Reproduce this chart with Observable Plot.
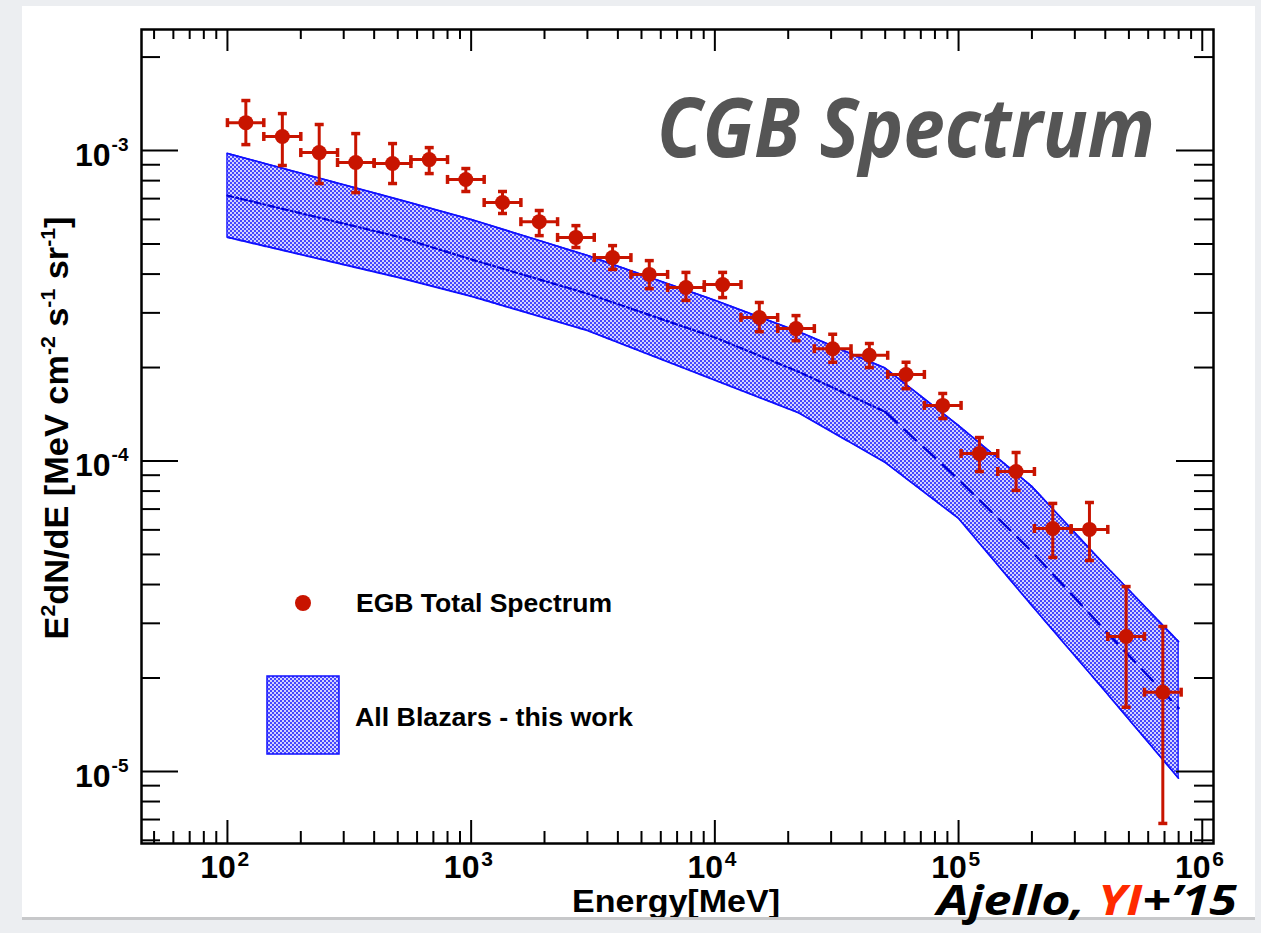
<!DOCTYPE html>
<html>
<head>
<meta charset="utf-8">
<script src="https://cdn.jsdelivr.net/npm/d3@7"></script>
<script src="https://cdn.jsdelivr.net/npm/@observablehq/plot@0.6"></script>
<style>
  html, body { margin: 0; padding: 0; background: #eceef1; }
  #page { position: relative; width: 1261px; height: 933px; overflow: hidden; background: #eceef1; }
  #panel { position: absolute; left: 22px; top: 6px; width: 1233px; height: 911px; background: #fff; overflow: hidden; }
  #panel > svg { position: absolute; left: -22px; top: -6px; }
  #rule { position: absolute; left: 22px; top: 917px; width: 1233px; height: 3px; background: #c7c8ca; }
  #credit { position: absolute; left: 0; top: 0; }
</style>
</head>
<body>
<svg width="0" height="0" style="position:absolute">
  <defs>
    <pattern id="hatch" width="4" height="4" patternUnits="userSpaceOnUse">
      <rect width="4" height="4" fill="#d2d2ff"/>
      <rect width="2" height="2" fill="#4646ff"/>
      <rect x="2" y="2" width="2" height="2" fill="#4646ff"/>
    </pattern>
  </defs>
</svg>
<div id="page">
  <div id="panel"></div>
  <div id="rule"></div>
</div>
<script>
// ---- EGB total spectrum (Fermi-LAT): energy bins [MeV] and E^2 dN/dE [MeV cm^-2 s^-1 sr^-1]
const E_LO  = [100, 141, 200, 283, 400, 566, 800, 1131, 1600, 2263, 3200, 4525, 6400, 9051,
               12800, 18102, 25600, 36204, 51200, 72408, 102400, 144815, 204800, 289631, 409600, 579262];
const E_HI  = [141, 200, 283, 400, 566, 800, 1131, 1600, 2263, 3200, 4525, 6400, 9051, 12800,
               18102, 25600, 36204, 51200, 72408, 102400, 144815, 204800, 289631, 409600, 579262, 819200];
const E_MID = [119, 168, 238, 336, 476, 673, 951, 1345, 1903, 2691, 3805, 5382, 7611, 10763,
               15222, 21527, 30444, 43054, 60887, 86107, 121775, 172215, 243549, 344430, 487098, 688859];
const FLUX    = [1.23e-3, 1.11e-3, 9.85e-4, 9.15e-4, 9.08e-4, 9.35e-4, 8.07e-4, 6.80e-4, 5.90e-4, 5.25e-4,
                 4.52e-4, 3.99e-4, 3.62e-4, 3.70e-4, 2.90e-4, 2.67e-4, 2.30e-4, 2.19e-4, 1.90e-4, 1.51e-4,
                 1.057e-4, 9.25e-5, 6.06e-5, 6.02e-5, 2.72e-5, 1.80e-5];
const FLUX_HI = [1.449e-3, 1.315e-3, 1.213e-3, 1.134e-3, 1.053e-3, 1.022e-3, 8.75e-4, 7.38e-4, 6.41e-4, 5.73e-4,
                 4.94e-4, 4.42e-4, 4.05e-4, 4.05e-4, 3.24e-4, 2.94e-4, 2.56e-4, 2.39e-4, 2.08e-4, 1.65e-4,
                 1.19e-4, 1.065e-4, 7.30e-5, 7.35e-5, 3.94e-5, 2.93e-5];
const FLUX_LO = [1.045e-3, 8.95e-4, 7.83e-4, 7.32e-4, 7.83e-4, 8.43e-4, 7.38e-4, 6.27e-4, 5.32e-4, 4.87e-4,
                 4.14e-4, 3.59e-4, 3.29e-4, 3.36e-4, 2.61e-4, 2.44e-4, 2.08e-4, 2.00e-4, 1.71e-4, 1.37e-4,
                 9.25e-5, 8.04e-5, 4.89e-5, 4.78e-5, 1.61e-5, 6.80e-6];

// ---- All-blazar model band (this work): lower / central / upper curves
const BAND_E   = [100, 500, 1000, 3000, 1e4, 2.2e4, 5e4, 1e5, 2e5, 4e5, 8e5];
const BAND_HI  = [9.78e-4, 6.96e-4, 5.99e-4, 4.59e-4, 3.29e-4, 2.61e-4, 1.99e-4, 1.30e-4, 8.28e-5, 4.61e-5, 2.62e-5];
const BAND_MID = [7.16e-4, 5.28e-4, 4.46e-4, 3.46e-4, 2.50e-4, 1.94e-4, 1.44e-4, 8.72e-5, 5.11e-5, 2.84e-5, 1.60e-5];
const BAND_LO  = [5.25e-4, 3.90e-4, 3.39e-4, 2.63e-4, 1.82e-4, 1.43e-4, 9.89e-5, 6.53e-5, 3.42e-5, 1.81e-5, 9.5e-6];
const BAND_BREAK = 5e4; // central curve switches from dash-dot to long dashes here

// ---- axis ticks and labels
const X_MAJOR = [1e2, 1e3, 1e4, 1e5, 1e6];
const X_EXP   = ["2", "3", "4", "5", "6"];
const X_MINOR = [50, 60, 70, 80, 90,
                 200, 300, 400, 500, 600, 700, 800, 900,
                 2000, 3000, 4000, 5000, 6000, 7000, 8000, 9000,
                 2e4, 3e4, 4e4, 5e4, 6e4, 7e4, 8e4, 9e4,
                 2e5, 3e5, 4e5, 5e5, 6e5, 7e5, 8e5, 9e5];
const Y_MAJOR = [1e-3, 1e-4, 1e-5];
const Y_EXP   = ["-3", "-4", "-5"];
const Y_MINOR = [6e-6, 7e-6, 8e-6, 9e-6,
                 2e-5, 3e-5, 4e-5, 5e-5, 6e-5, 7e-5, 8e-5, 9e-5,
                 2e-4, 3e-4, 4e-4, 5e-4, 6e-4, 7e-4, 8e-4, 9e-4,
                 2e-3];

const RED = "#c81400";
const BLUE = "#1010ff";
const FONT = "'Liberation Sans', Arial, Helvetica, sans-serif";

const W = 1261, H = 933;
const M = {left: 141, right: 48, top: 29, bottom: 90};
const innerW = W - M.left - M.right;
const innerH = H - M.top - M.bottom;

const points = E_MID.map((e, i) => ({e, elo: E_LO[i], ehi: E_HI[i], f: FLUX[i], flo: FLUX_LO[i], fhi: FLUX_HI[i]}));
const band = BAND_E.map((e, i) => ({e, lo: BAND_LO[i], mid: BAND_MID[i], hi: BAND_HI[i]}));

// end-cap glyphs for the error bars
const hbar = {draw(ctx, size) { const r = Math.sqrt(size / Math.PI); ctx.moveTo(-r, 0); ctx.lineTo(r, 0); }};
const vbar = {draw(ctx, size) { const r = Math.sqrt(size / Math.PI); ctx.moveTo(0, -r); ctx.lineTo(0, r); }};

const tick = {stroke: "#000", strokeWidth: 2};

const chart = Plot.plot({
  width: W, height: H,
  marginLeft: M.left, marginRight: M.right, marginTop: M.top, marginBottom: M.bottom,
  x: {type: "log", domain: [44.4, 1.112e6], axis: null},
  y: {type: "log", domain: [5.86e-6, 2.454e-3], axis: null},
  style: {background: "transparent", overflow: "visible", maxWidth: "none", fontFamily: FONT},
  marks: [
    // model band
    Plot.areaY(band, {x: "e", y1: "lo", y2: "hi", fill: "url(#hatch)", stroke: BLUE, strokeWidth: 1.3}),
    Plot.line(band, {x: "e", y: "hi", stroke: BLUE, strokeWidth: 1.6, strokeDasharray: "3,1"}),
    Plot.line(band, {x: "e", y: "lo", stroke: BLUE, strokeWidth: 1.6, strokeDasharray: "3,1"}),
    Plot.line(band.filter(d => d.e <= BAND_BREAK), {x: "e", y: "mid", stroke: "#0000d8", strokeWidth: 2.2, strokeDasharray: "6,3,2,3"}),
    Plot.line(band.filter(d => d.e >= BAND_BREAK), {x: "e", y: "mid", stroke: "#0000d8", strokeWidth: 2.4, strokeDasharray: "16,10"}),

    // EGB data with error bars
    Plot.ruleY(points, {y: "f", x1: "elo", x2: "ehi", stroke: RED, strokeWidth: 3}),
    Plot.ruleX(points, {x: "e", y1: "flo", y2: "fhi", stroke: RED, strokeWidth: 3}),
    Plot.dot(points, {x: "e", y: "fhi", symbol: hbar, r: 4.5, fill: "none", stroke: RED, strokeWidth: 3.5}),
    Plot.dot(points, {x: "e", y: "flo", symbol: hbar, r: 4.5, fill: "none", stroke: RED, strokeWidth: 3.5}),
    Plot.dot(points, {x: "elo", y: "f", symbol: vbar, r: 4.5, fill: "none", stroke: RED, strokeWidth: 3.5}),
    Plot.dot(points, {x: "ehi", y: "f", symbol: vbar, r: 4.5, fill: "none", stroke: RED, strokeWidth: 3.5}),
    Plot.dot(points, {x: "e", y: "f", r: 7.5, fill: RED, stroke: "none"}),

    // inward ticks on all four sides
    Plot.ruleX(X_MAJOR, {x: d => d, insetTop: innerH - 23, ...tick}),
    Plot.ruleX(X_MINOR, {x: d => d, insetTop: innerH - 12, ...tick}),
    Plot.ruleX(X_MAJOR, {x: d => d, insetBottom: innerH - 22, ...tick}),
    Plot.ruleX(X_MINOR, {x: d => d, insetBottom: innerH - 10, ...tick}),
    Plot.ruleY(Y_MAJOR, {y: d => d, insetRight: innerW - 37, ...tick}),
    Plot.ruleY(Y_MINOR, {y: d => d, insetRight: innerW - 19, ...tick}),
    Plot.ruleY(Y_MAJOR, {y: d => d, insetLeft: innerW - 37, ...tick}),
    Plot.ruleY(Y_MINOR, {y: d => d, insetLeft: innerW - 19, ...tick}),
    Plot.frame({stroke: "#000", strokeWidth: 2.5}),

    // decade labels 10^n
    Plot.text(X_MAJOR, {x: d => d, frameAnchor: "bottom", text: () => "10", dx: -9.5, dy: 34,
                        fontSize: 32, fontWeight: "bold", fill: "#000"}),
    Plot.text(X_MAJOR, {x: d => d, frameAnchor: "bottom", text: (d, i) => X_EXP[i], textAnchor: "start",
                        dx: 10, dy: 22, fontSize: 21, fontWeight: "bold", fill: "#000"}),
    Plot.text(Y_MAJOR, {y: d => d, frameAnchor: "left", text: () => "10", textAnchor: "end", dx: -31, dy: 5,
                        fontSize: 32, fontWeight: "bold", fill: "#000"}),
    Plot.text(Y_MAJOR, {y: d => d, frameAnchor: "left", text: (d, i) => Y_EXP[i], textAnchor: "end",
                        dx: -13, dy: -6, fontSize: 19, fontWeight: "bold", fill: "#000"})
  ]
});
document.getElementById("panel").appendChild(chart);

// axis titles, legend and headline
const ov = d3.select("#panel").append("svg")
  .attr("width", W).attr("height", H)
  .style("font-family", FONT);

ov.append("text")
  .attr("x", 676).attr("y", 912).attr("text-anchor", "middle")
  .attr("font-size", 32).attr("font-weight", "bold")
  .attr("textLength", 208).attr("lengthAdjust", "spacingAndGlyphs")
  .text("Energy[MeV]");

const yt = ov.append("text")
  .attr("transform", "translate(68,428) rotate(-90)")
  .attr("text-anchor", "middle").attr("font-size", 34).attr("font-weight", "bold")
  .attr("textLength", 423).attr("lengthAdjust", "spacingAndGlyphs");
[["E", 0], ["2", 1], ["dN/dE [MeV cm", 0], ["-2", 1], [" s", 0], ["-1", 1], [" sr", 0], ["-1", 1], ["]", 0]]
  .forEach(([s, sup], i, arr) => {
    const prevSup = i > 0 && arr[i - 1][1];
    const t = yt.append("tspan").text(s);
    if (sup) t.attr("font-size", 21).attr("dy", prevSup ? 0 : -13);
    else if (prevSup) t.attr("dy", 13);
  });

// legend
ov.append("circle").attr("cx", 303).attr("cy", 603).attr("r", 8).attr("fill", RED);
ov.append("text").attr("x", 356).attr("y", 612).attr("font-size", 25).attr("font-weight", "bold")
  .attr("textLength", 256).attr("lengthAdjust", "spacingAndGlyphs").text("EGB Total Spectrum");
ov.append("rect").attr("x", 267).attr("y", 676).attr("width", 72).attr("height", 78)
  .attr("fill", "url(#hatch)").attr("stroke", BLUE).attr("stroke-width", 1.5);
ov.append("text").attr("x", 355).attr("y", 726).attr("font-size", 26).attr("font-weight", "bold")
  .attr("textLength", 278).attr("lengthAdjust", "spacingAndGlyphs").text("All Blazars - this work");

// headline
ov.append("text").attr("x", 657).attr("y", 157)
  .attr("font-family", "'Open Sans', 'Noto Sans', sans-serif")
  .attr("font-size", 82).attr("font-weight", 700).attr("font-style", "italic").attr("fill", "#555555")
  .attr("textLength", 498).attr("lengthAdjust", "spacingAndGlyphs")
  .text("CGB Spectrum");

// reference credit, drawn over the slide edge
const cr = d3.select("#page").append("svg").attr("id", "credit").attr("width", W).attr("height", H);
const ct = cr.append("text").attr("x", 937).attr("y", 915)
  .attr("font-family", "'Open Sans', 'Noto Sans', sans-serif")
  .attr("font-size", 42).attr("font-weight", 700).attr("font-style", "italic").attr("fill", "#000")
  .attr("textLength", 300).attr("lengthAdjust", "spacingAndGlyphs");
ct.append("tspan").text("Ajello, ");
ct.append("tspan").attr("fill", "#ff2a00").text("YI");
ct.append("tspan").text("+\u201915");
</script>
</body>
</html>
